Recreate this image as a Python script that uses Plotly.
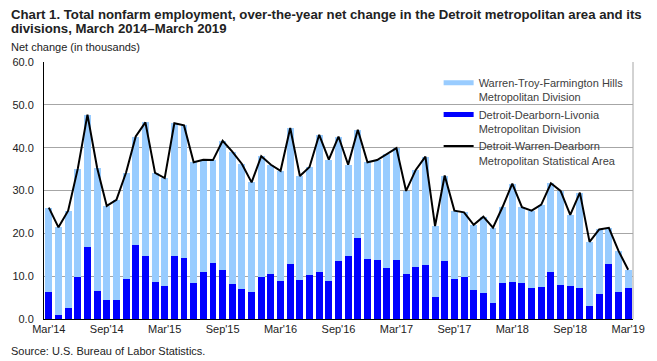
import plotly.graph_objects as go

months = [
    "Mar'14", "Apr'14", "May'14", "Jun'14", "Jul'14", "Aug'14", "Sep'14", "Oct'14", "Nov'14", "Dec'14",
    "Jan'15", "Feb'15", "Mar'15", "Apr'15", "May'15", "Jun'15", "Jul'15", "Aug'15", "Sep'15", "Oct'15",
    "Nov'15", "Dec'15", "Jan'16", "Feb'16", "Mar'16", "Apr'16", "May'16", "Jun'16", "Jul'16", "Aug'16",
    "Sep'16", "Oct'16", "Nov'16", "Dec'16", "Jan'17", "Feb'17", "Mar'17", "Apr'17", "May'17", "Jun'17",
    "Jul'17", "Aug'17", "Sep'17", "Oct'17", "Nov'17", "Dec'17", "Jan'18", "Feb'18", "Mar'18", "Apr'18",
    "May'18", "Jun'18", "Jul'18", "Aug'18", "Sep'18", "Oct'18", "Nov'18", "Dec'18", "Jan'19", "Feb'19",
    "Mar'19",
]

tick_labels = ["Mar'14", "Sep'14", "Mar'15", "Sep'15", "Mar'16", "Sep'16",
               "Mar'17", "Sep'17", "Mar'18", "Sep'18", "Mar'19"]

detroit_dearborn = [
    6.4, 0.9, 2.6, 9.9, 16.7, 6.6, 4.5, 4.5, 9.4, 17.3,
    14.7, 8.7, 7.8, 14.7, 14.3, 8.4, 11.0, 13.1, 11.5, 8.2,
    7.0, 6.3, 9.9, 10.5, 8.9, 12.9, 9.1, 10.3, 11.0, 8.9,
    13.6, 14.7, 18.9, 14.0, 13.8, 11.9, 13.8, 10.5, 12.2, 12.6,
    5.1, 13.6, 9.4, 9.9, 6.8, 6.1, 3.7, 8.4, 8.7, 8.4,
    7.2, 7.5, 11.0, 8.0, 7.7, 7.2, 3.0, 5.8, 12.9, 6.3,
    7.2,
]

warren_troy = [
    19.6, 20.5, 22.7, 25.2, 31.0, 28.7, 21.9, 23.3, 24.8, 25.3,
    31.2, 25.4, 25.1, 31.0, 30.9, 28.2, 26.2, 24.0, 30.1, 30.9,
    29.2, 25.6, 28.1, 25.5, 25.7, 31.7, 24.3, 25.2, 32.0, 28.3,
    29.0, 21.3, 25.3, 22.6, 23.3, 26.7, 26.1, 19.4, 22.6, 25.3,
    16.6, 19.9, 15.9, 15.0, 15.2, 17.8, 17.6, 17.8, 22.9, 17.7,
    18.1, 19.2, 20.7, 21.9, 16.6, 22.3, 15.0, 15.1, 8.4, 9.6,
    4.3,
]

msa_total = [
    26.0, 21.4, 25.3, 35.1, 47.7, 35.3, 26.4, 27.8, 34.2, 42.6,
    45.9, 34.1, 32.9, 45.7, 45.2, 36.6, 37.2, 37.1, 41.6, 39.1,
    36.2, 31.9, 38.0, 36.0, 34.6, 44.6, 33.4, 35.5, 43.0, 37.2,
    42.6, 36.0, 44.2, 36.6, 37.1, 38.6, 39.9, 29.9, 34.8, 37.9,
    21.7, 33.5, 25.3, 24.9, 22.0, 23.9, 21.3, 26.2, 31.6, 26.1,
    25.3, 26.7, 31.7, 29.9, 24.3, 29.5, 18.0, 20.9, 21.3, 15.9,
    11.5,
]

name_warren = "Warren-Troy-Farmington Hills<br>Metropolitan Division"
name_detroit = "Detroit-Dearborn-Livonia<br>Metropolitan Division"
name_msa = "Detroit-Warren-Dearborn<br>Metropolitan Statistical Area"

LIGHT = "#99CCFF"
DARK = "#0000FF"
FONT = "Liberation Sans, Arial, sans-serif"

fig = go.Figure()
fig.add_trace(go.Bar(x=months, y=detroit_dearborn, marker_color=DARK, marker_line_width=0,
                     name=name_detroit, showlegend=False))
fig.add_trace(go.Bar(x=months, y=warren_troy, marker_color=LIGHT, marker_line_width=0,
                     name=name_warren, showlegend=False))
fig.add_trace(go.Scatter(x=months, y=msa_total, mode="lines", line=dict(color="black", width=2),
                         name=name_msa, showlegend=False))

# legend entries
fig.add_trace(go.Scatter(x=[None], y=[None], mode="lines", line=dict(color=LIGHT, width=5),
                         name=name_warren, legendgroup="a"))
fig.add_trace(go.Scatter(x=[None], y=[None], mode="lines", line=dict(color=DARK, width=5),
                         name=name_detroit, legendgroup="b"))
fig.add_trace(go.Scatter(x=[None], y=[None], mode="lines", line=dict(color="black", width=2),
                         name=name_msa, legendgroup="c"))

fig.update_layout(
    width=657, height=361,
    margin=dict(l=38, r=21, t=62, b=42),
    paper_bgcolor="white", plot_bgcolor="white",
    barmode="stack", bargap=0.28,
    font=dict(family=FONT, size=11, color="#222"),
    showlegend=True,
    legend=dict(x=0.67, y=0.972, xanchor="left", yanchor="top",
                bgcolor="rgba(0,0,0,0)", font=dict(size=11, color="#404040"),
                itemwidth=30, valign="top", tracegroupgap=8, traceorder="normal"),
    xaxis=dict(type="category", tickmode="array", tickvals=tick_labels, ticktext=tick_labels,
               showgrid=False, showline=True, linecolor="black", linewidth=1,
               ticks="", tickfont=dict(size=11, color="#222"), range=[-0.5, 60.5]),
    yaxis=dict(range=[0, 60], dtick=10, tickformat=".1f", showgrid=True, gridcolor="#A6A6A6",
               gridwidth=1, showline=True, linecolor="black", linewidth=1,
               ticks="outside", ticklen=7, tickcolor="rgba(0,0,0,0)",
               tickfont=dict(size=11, color="#222"), zeroline=False),
    shapes=[dict(type="line", xref="paper", yref="paper", x0=1, x1=1, y0=0, y1=1,
                 line=dict(color="#A6A6A6", width=1))],
)

def py(px):
    return (319 - px) / 257.0

def pxx(px):
    return (px - 38) / 598.0

annots = [
    ("<b>Chart 1. Total nonfarm employment, over-the-year net change in the Detroit metropolitan area and its</b>", 14, 13.2, "#222"),
    ("<b>divisions, March 2014\u2013March 2019</b>", 28, 13.2, "#222"),
    ("Net change (in thousands)", 47, 11, "#222"),
    ("Source: U.S. Bureau of Labor Statistics.", 351, 11, "#222"),
]
for text, ypx, size, color in annots:
    fig.add_annotation(text=text, xref="paper", yref="paper", x=pxx(3), y=py(ypx),
                       xanchor="left", yanchor="middle", showarrow=False, borderpad=0,
                       font=dict(family=FONT, size=size, color=color))

fig.write_html("out.html", config={"displayModeBar": False},
               post_script="document.body.style.margin='0';")
